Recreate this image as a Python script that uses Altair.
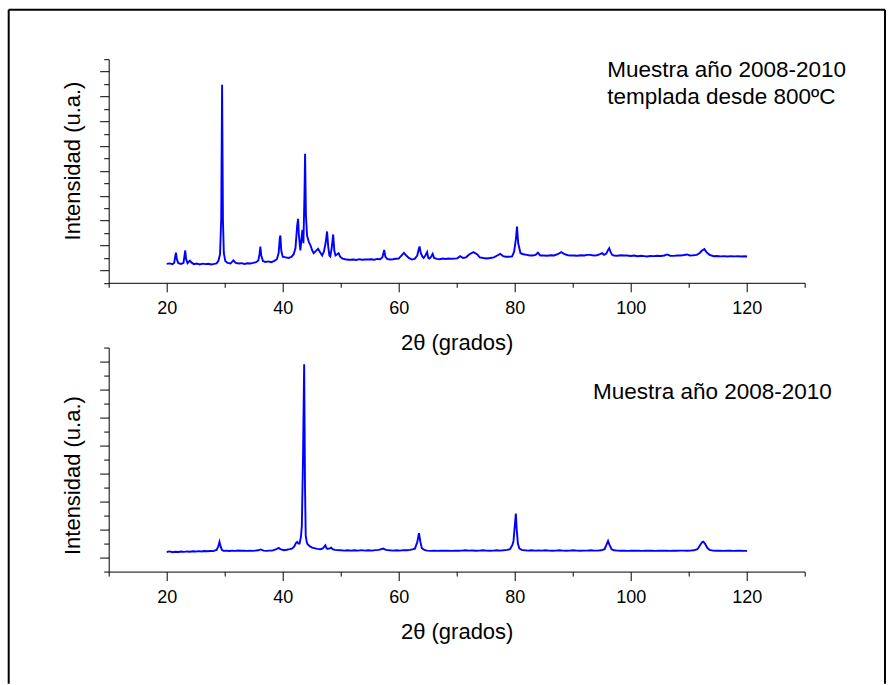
import altair as alt
import pandas as pd

# ---------------- data ----------------
two_theta_top = [
    20.0, 20.5, 21.0, 21.3, 21.5, 21.6, 21.75, 22.0, 22.5, 22.9, 23.1, 23.2, 23.35, 23.6, 24.0, 24.3,
    24.7, 25.2, 25.7, 26.2, 26.7, 27.2, 27.7, 28.2, 28.6, 28.9, 29.2, 29.4, 29.55, 29.7, 29.85, 30.1,
    30.5, 31.0, 31.5, 31.9, 32.4, 32.9, 33.4, 33.9, 34.4, 34.9, 35.4, 35.8, 36.0, 36.15, 36.3, 36.6,
    37.0, 37.5, 38.0, 38.5, 39.0, 39.3, 39.5, 39.6, 39.75, 40.0, 40.5, 41.0, 41.5, 41.9, 42.2, 42.5,
    42.65, 42.8, 43.05, 43.25, 43.4, 43.57, 43.75, 43.86, 44.0, 44.2, 44.5, 44.8, 45.1, 45.35, 45.7,
    46.1, 46.4, 46.8, 47.1, 47.4, 47.65, 47.85, 48.05, 48.2, 48.45, 48.7, 48.9, 49.1, 49.4, 49.65,
    49.9, 50.3, 50.8, 51.3, 51.7, 52.2, 52.7, 53.2, 53.7, 54.2, 54.8, 55.3, 55.8, 56.3, 56.8, 57.2,
    57.5, 57.7, 58.0, 58.5, 59.0, 59.5, 60.0, 60.5, 60.9, 61.3, 61.8, 62.3, 62.8, 63.2, 63.45, 63.6,
    63.8, 64.1, 64.3, 64.6, 64.9, 65.1, 65.3, 65.6, 65.86, 66.1, 66.6, 67.1, 67.6, 68.1, 68.6, 69.1,
    69.6, 70.1, 70.6, 71.1, 71.6, 72.2, 72.9, 73.5, 74.0, 74.6, 75.2, 75.8, 76.4, 77.0, 77.5, 78.0,
    78.5, 79.0, 79.55, 79.9, 80.2, 80.4, 80.6, 81.0, 81.5, 82.1, 82.6, 83.1, 83.6, 84.0, 84.4, 85.0,
    85.6, 86.2, 86.8, 87.4, 88.05, 88.6, 89.2, 89.7, 90.2, 90.8, 91.4, 92.0, 92.5, 93.05, 93.6, 94.2,
    94.7, 95.06, 95.4, 95.8, 96.1, 96.3, 96.5, 96.8, 97.1, 97.7, 98.3, 98.9, 99.4, 100.0, 100.6,
    101.2, 101.8, 102.3, 102.8, 103.4, 104.0, 104.6, 105.2, 105.8, 106.3, 106.8, 107.4, 108.0, 108.6,
    109.2, 109.7, 110.2, 110.8, 111.4, 111.9, 112.3, 112.7, 113.1, 113.6, 114.3, 114.9, 115.5, 116.1,
    116.7, 117.3, 117.9, 118.5, 119.1, 119.6, 120.07,
]
intensity_top = [
    1.52, 1.56, 1.50, 1.62, 2.2, 2.42, 1.9, 1.58, 1.52, 1.6, 2.3, 2.6, 1.9, 1.58, 1.78, 1.62,
    1.5, 1.55, 1.48, 1.54, 1.5, 1.53, 1.48, 1.52, 1.56, 1.75, 2.3, 5.2, 15.94, 5.0, 2.4, 1.75,
    1.6, 1.55, 1.8, 1.6, 1.55, 1.58, 1.52, 1.57, 1.55, 1.6, 1.66, 1.8, 2.3, 2.92, 2.2, 1.75,
    1.68, 1.72, 1.66, 1.75, 1.9, 2.4, 3.6, 3.81, 2.6, 2.1, 2.05, 2.0, 2.08, 2.3, 2.8, 4.6,
    5.15, 3.8, 2.6, 3.6, 4.27, 3.19, 7.0, 10.38, 5.5, 3.8, 3.3, 3.0, 2.6, 2.38, 2.55,
    2.74, 2.5, 2.2, 2.5, 3.2, 4.13, 2.9, 2.2, 2.12, 2.8, 3.89, 2.6, 2.2, 2.3, 2.38,
    2.1, 1.95, 1.9, 1.86, 1.85, 1.88, 1.84, 1.9, 1.86, 1.88, 1.87, 1.9, 1.86, 1.92, 1.9, 2.05,
    2.65, 2.1, 1.92, 1.88, 1.9, 1.94, 1.95, 2.2, 2.41, 2.2, 1.98, 1.87, 1.95, 2.2, 2.7, 2.92,
    2.4, 2.1, 2.0, 2.2, 2.47, 2.0, 1.95, 2.1, 2.33, 2.0, 1.93, 1.9, 1.95, 1.92, 1.96, 1.93,
    1.95, 1.97, 2.14, 2.0, 2.05, 2.3, 2.47, 2.3, 2.05, 2.0, 1.96, 2.0, 2.05, 2.2, 2.33, 2.15,
    2.1, 2.1, 2.12, 2.5, 3.5, 4.53, 3.2, 2.38, 2.3, 2.25, 2.2, 2.2, 2.25, 2.42, 2.2, 2.2,
    2.18, 2.22, 2.2, 2.3, 2.47, 2.3, 2.22, 2.2, 2.2, 2.18, 2.22, 2.2, 2.25, 2.25, 2.2, 2.22,
    2.3, 2.38, 2.25, 2.35, 2.65, 2.79, 2.5, 2.25, 2.2, 2.18, 2.22, 2.2, 2.2, 2.16, 2.2,
    2.14, 2.18, 2.15, 2.12, 2.16, 2.15, 2.18, 2.16, 2.2, 2.28, 2.18, 2.17, 2.2, 2.2,
    2.24, 2.28, 2.2, 2.22, 2.25, 2.4, 2.6, 2.71, 2.45, 2.25, 2.14, 2.16, 2.13, 2.15,
    2.12, 2.15, 2.13, 2.14, 2.12, 2.14, 2.12,
]

two_theta_bottom = [
    20.0, 20.5, 21.0, 21.5, 22.0, 22.5, 23.0, 23.5, 24.0, 24.5, 25.0, 25.5, 26.0, 26.5, 27.0, 27.5,
    28.0, 28.6, 28.9, 29.1, 29.3, 29.5, 29.8, 30.3, 30.8, 31.3, 31.8, 32.3, 32.8, 33.3, 33.8, 34.3,
    34.8, 35.3, 35.8, 36.2, 36.7, 37.2, 37.7, 38.2, 38.8, 39.3, 39.7, 40.2, 40.7, 41.2, 41.6, 42.0,
    42.3, 42.5, 42.7, 42.9, 43.15, 43.3, 43.5, 43.7, 43.85, 43.97, 44.15, 44.3, 44.7, 45.07, 45.6,
    46.0, 46.5, 46.9, 47.2, 47.36, 47.55, 47.75, 48.1, 48.35, 48.6, 49.0, 49.4, 50.0, 50.6, 51.2,
    51.8, 52.4, 53.0, 53.6, 54.2, 54.8, 55.4, 56.0, 56.6, 57.3, 57.8, 58.4, 59.0, 59.6, 60.2, 60.8,
    61.4, 62.0, 62.5, 62.8, 63.2, 63.5, 63.75, 64.0, 64.4, 64.9, 65.5, 66.1, 66.7, 67.3, 67.9, 68.5,
    69.1, 69.7, 70.3, 70.9, 71.5, 72.1, 72.7, 73.3, 73.9, 74.5, 75.1, 75.7, 76.3, 76.9, 77.5, 78.1,
    78.7, 79.2, 79.6, 79.8, 80.0, 80.2, 80.35, 80.55, 80.8, 81.2, 81.7, 82.3, 82.9, 83.5, 84.1, 84.7,
    85.3, 85.9, 86.5, 87.1, 87.7, 88.3, 88.9, 89.5, 90.1, 90.7, 91.3, 91.9, 92.5, 93.1, 93.7, 94.3,
    94.9, 95.5, 95.85, 96.1, 96.35, 96.7, 97.1, 97.7, 98.3, 98.9, 99.5, 100.1, 100.7, 101.3, 101.9,
    102.5, 103.1, 103.7, 104.3, 104.9, 105.5, 106.1, 106.7, 107.3, 107.9, 108.5, 109.1, 109.7, 110.3,
    110.9, 111.5, 111.9, 112.3, 112.5, 112.8, 113.2, 113.6, 114.2, 114.8, 115.4, 116.0, 116.6, 117.2,
    117.8, 118.4, 119.0, 119.5, 120.07,
]
intensity_bottom = [
    1.40, 1.44, 1.38, 1.42, 1.40, 1.43, 1.41, 1.44, 1.42, 1.45, 1.43, 1.46, 1.44, 1.47, 1.45, 1.47,
    1.46, 1.55, 1.8, 2.12, 1.8, 1.55, 1.48, 1.50, 1.47, 1.5, 1.48, 1.51, 1.49, 1.5, 1.48, 1.5,
    1.48, 1.5, 1.52, 1.58, 1.5, 1.48, 1.5, 1.5, 1.58, 1.69, 1.58, 1.53, 1.56, 1.6, 1.64, 1.8,
    2.05, 2.12, 2.0, 2.0, 2.5, 3.26, 8.0, 14.81, 6.0, 2.55, 2.1, 1.96, 1.8, 1.71, 1.66,
    1.62, 1.6, 1.65, 1.8, 1.88, 1.68, 1.62, 1.66, 1.71, 1.6, 1.55, 1.53, 1.52, 1.5, 1.52,
    1.5, 1.52, 1.5, 1.53, 1.5, 1.52, 1.5, 1.53, 1.55, 1.64, 1.55, 1.52, 1.5, 1.52, 1.5, 1.53,
    1.52, 1.55, 1.6, 1.64, 2.1, 2.74, 2.1, 1.67, 1.55, 1.5, 1.48, 1.5, 1.48, 1.5, 1.49, 1.5,
    1.48, 1.5, 1.49, 1.5, 1.52, 1.5, 1.51, 1.49, 1.5, 1.52, 1.5, 1.49, 1.5, 1.52, 1.5, 1.52,
    1.55, 1.6, 1.9, 2.19, 3.2, 4.14, 3.0, 2.0, 1.65, 1.55, 1.52, 1.5, 1.52, 1.5, 1.51, 1.5,
    1.52, 1.5, 1.49, 1.5, 1.52, 1.5, 1.49, 1.5, 1.52, 1.5, 1.49, 1.5, 1.5, 1.52, 1.5, 1.5,
    1.52, 1.6, 1.95, 2.19, 1.9, 1.6, 1.52, 1.5, 1.49, 1.5, 1.48, 1.5, 1.49, 1.5, 1.48,
    1.5, 1.49, 1.5, 1.48, 1.5, 1.49, 1.5, 1.48, 1.5, 1.49, 1.5, 1.5, 1.49, 1.5,
    1.52, 1.6, 1.85, 2.1, 2.14, 2.0, 1.7, 1.55, 1.5, 1.49, 1.5, 1.48, 1.5, 1.49,
    1.48, 1.5, 1.49, 1.48, 1.48,
]

x_major_ticks = [20, 40, 60, 80, 100, 120]
x_minor_ticks = [10, 30, 50, 70, 90, 110, 130]
y_major_top = [1, 3, 5, 7, 9, 11, 13, 15, 17]
y_minor_top = [0, 2, 4, 6, 8, 10, 12, 14, 16, 18]
y_major_bottom = [1, 3, 5, 7, 9, 11, 13, 15]
y_minor_bottom = [0, 2, 4, 6, 8, 10, 12, 14, 16]

x_title = "2\u03b8 (grados)"
y_title = "Intensidad (u.a.)"
notes_top = ["Muestra año 2008-2010", "templada desde 800ºC"]
notes_bottom = ["Muestra año 2008-2010"]

FONT = "Liberation Sans"
BLUE = "#0000FF"


def panel(tt, it, y_max, y_major, y_minor, height, title_y, notes, note_x, note_ys, frame=False):
    df = pd.DataFrame({"t": tt, "i": it})
    xs = alt.Scale(domain=[10, 130], nice=False, zero=False)
    ys = alt.Scale(domain=[0, y_max], nice=False, zero=False)
    major_x = alt.Axis(
        orient="bottom", values=x_major_ticks, tickSize=9, tickColor="black", domainColor="black",
        grid=False, labelFont=FONT, labelFontSize=18, labelColor="black", labelBaseline="alphabetic",
        labelPadding=21.5, labelFlush=False, labelOverlap=False,
        title=x_title, titleFont=FONT, titleFontSize=22, titleFontWeight="normal", titleColor="black",
        titleBaseline="alphabetic", titleY=67,
    )
    minor_x = alt.Axis(orient="bottom", values=x_minor_ticks, tickSize=4.5, tickColor="black",
                       domain=False, labels=False, grid=False, title=None)
    major_y = alt.Axis(
        orient="left", values=y_major, tickSize=9, tickColor="black", domainColor="black",
        grid=False, labels=False,
        title=y_title, titleFont=FONT, titleFontSize=22, titleFontWeight="normal", titleColor="black",
        titleAngle=270, titleAlign="center", titleBaseline="alphabetic", titleX=-29.7, titleY=title_y,
    )
    minor_y = alt.Axis(orient="left", values=y_minor, tickSize=5, tickColor="black",
                       domain=False, labels=False, grid=False, title=None)

    line = alt.Chart(df).mark_line(color=BLUE, strokeWidth=1.9).encode(
        x=alt.X("t:Q", scale=xs, axis=major_x),
        y=alt.Y("i:Q", scale=ys, axis=major_y),
    )
    minor = alt.Chart(df).mark_line(opacity=0).encode(
        x=alt.X("t:Q", scale=xs, axis=minor_x),
        y=alt.Y("i:Q", scale=ys, axis=minor_y),
    )
    layers = [line, minor]
    one = alt.Data(values=[{}])
    for txt, ny in zip(notes, note_ys):
        layers.append(
            alt.Chart(one).mark_text(text=txt, align="left", baseline="alphabetic", font=FONT,
                                     fontSize=22.5, color="black").encode(
                x=alt.XDatum(note_x, axis=None), y=alt.YDatum(ny, axis=None)
            )
        )
    if frame:
        layers += [
            alt.Chart(one).mark_rule(color="black", strokeWidth=2).encode(
                x=alt.value(-100), y=alt.value(-49.5), y2=alt.value(624.5)),
            alt.Chart(one).mark_rule(color="black", strokeWidth=2).encode(
                x=alt.value(-100), x2=alt.value(776.3), y=alt.value(-49.5)),
            alt.Chart(one).mark_rule(color="black", strokeWidth=2).encode(
                x=alt.value(776.3), y=alt.value(-49.5), y2=alt.value(624.5)),
        ]
    return alt.layer(*layers).resolve_axis(x="independent", y="independent").properties(
        width=696, height=height)


top = panel(two_theta_top, intensity_top, 18, y_major_top, y_minor_top, 223.6, 101.3,
            notes_top, 95.97, [16.55, 14.41], frame=True)
bottom = panel(two_theta_bottom, intensity_bottom, 16, y_major_bottom, y_minor_bottom, 224, 127.5,
               notes_bottom, 93.5, [12.3])

chart = alt.vconcat(top, bottom, spacing=64.4, bounds="flush").properties(
    padding={"left": 7.7, "top": 8.2, "right": 0, "bottom": 0},
    background="white",
).configure_view(strokeWidth=0)

chart.save("out.html", embed_options={"renderer": "svg", "actions": False})
